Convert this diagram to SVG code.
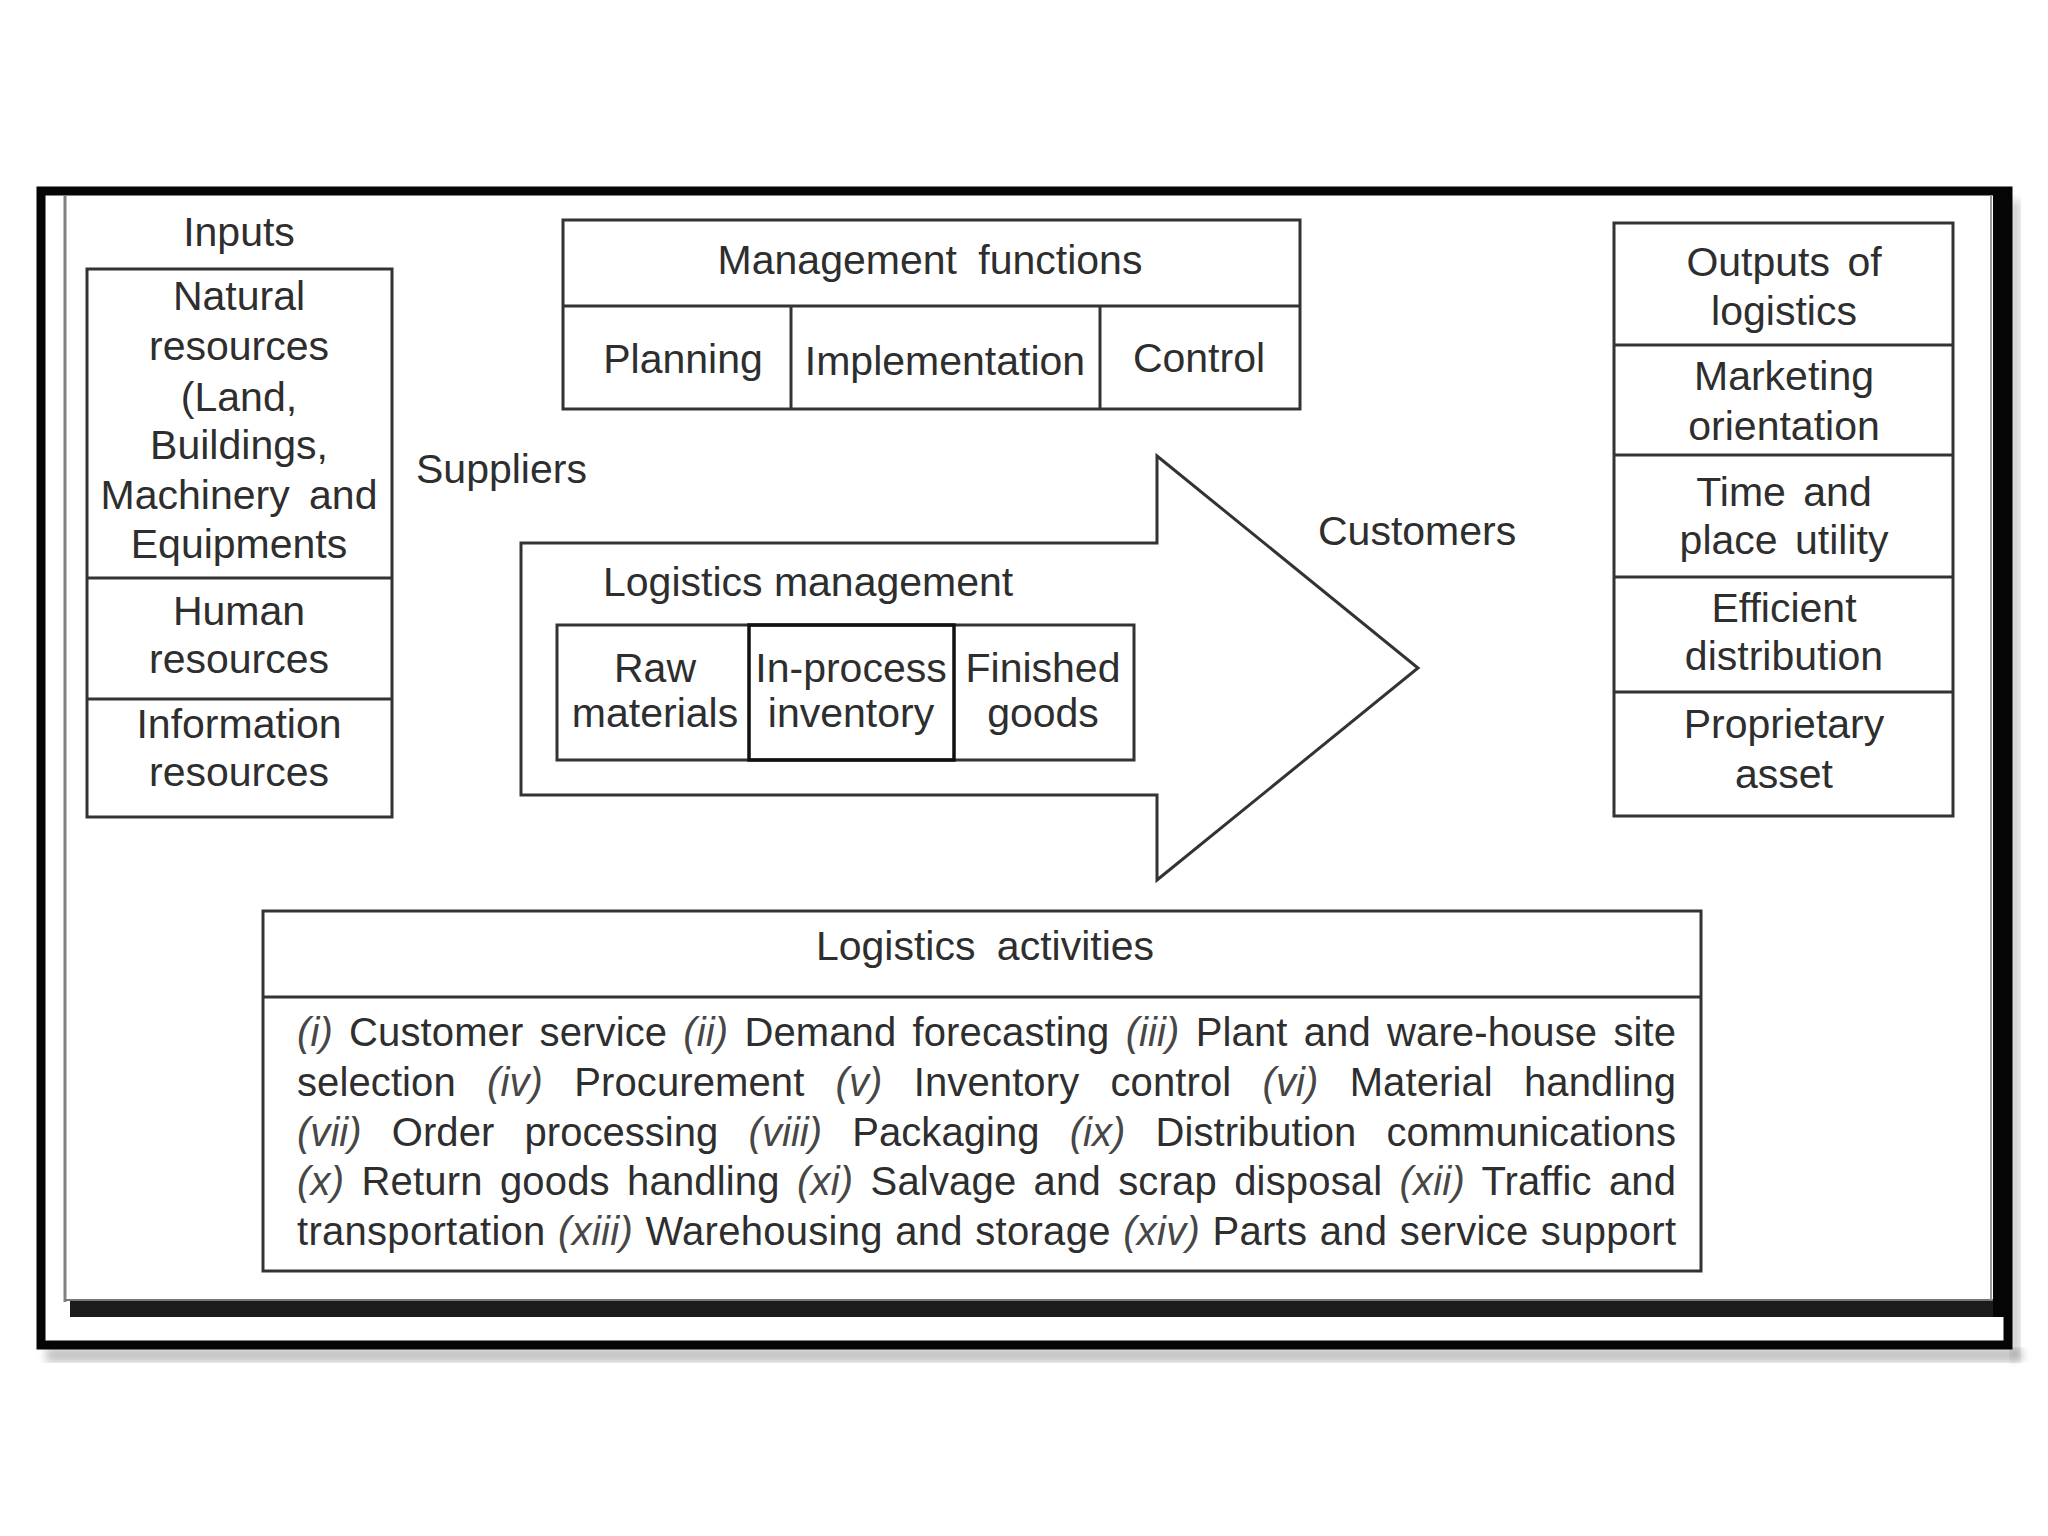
<svg xmlns="http://www.w3.org/2000/svg" width="2048" height="1536" viewBox="0 0 2048 1536">
<defs>
<filter id="blur" x="-5%" y="-5%" width="110%" height="110%"><feGaussianBlur stdDeviation="4"/></filter>
<style>
.t{font-family:"Liberation Sans",Arial,sans-serif;font-size:41px;fill:#2e2e2e;text-anchor:middle}
.ts{font-family:"Liberation Sans",Arial,sans-serif;font-size:41px;fill:#2e2e2e}
.a{font-family:"Liberation Sans",Arial,sans-serif;font-size:40px;fill:#2e2e2e}
.i{font-style:italic;fill:#474747}
.box{fill:none;stroke:#333;stroke-width:3}
.ln{stroke:#333;stroke-width:3;fill:none}
</style>
</defs>
<rect x="0" y="0" width="2048" height="1536" fill="#ffffff"/>
<g id="frame">
<rect x="46" y="1348" width="1976" height="14" fill="#9a9a9a" opacity="0.6" filter="url(#blur)"/>
<rect x="2010" y="200" width="10" height="1160" fill="#9a9a9a" opacity="0.5" filter="url(#blur)"/>
<rect x="41" y="191" width="1967" height="1154" fill="#ffffff" stroke="#050505" stroke-width="9"/>
<line x1="65" y1="195" x2="65" y2="1302" stroke="#808080" stroke-width="3"/>
<line x1="65" y1="1300" x2="1993" y2="1300" stroke="#777" stroke-width="2"/>
<rect x="70" y="1301" width="1935" height="16" fill="#1c1c1c"/>
<line x1="1991" y1="195" x2="1991" y2="1300" stroke="#999" stroke-width="2"/>
<rect x="1993" y="195" width="15" height="1122" fill="#050505"/>
</g>
<g id="inputs">
<text class="t" x="239" y="246">Inputs</text>
<rect class="box" x="87" y="269" width="305" height="548"/>
<line class="ln" x1="87" y1="578" x2="392" y2="578"/>
<line class="ln" x1="87" y1="699" x2="392" y2="699"/>
<text class="t" x="239" y="310">Natural</text>
<text class="t" x="239" y="360">resources</text>
<text class="t" x="239" y="411">(Land,</text>
<text class="t" x="239" y="459">Buildings,</text>
<text class="t" x="239" y="509" word-spacing="8">Machinery and</text>
<text class="t" x="239" y="558">Equipments</text>
<text class="t" x="239" y="625">Human</text>
<text class="t" x="239" y="673">resources</text>
<text class="t" x="239" y="738">Information</text>
<text class="t" x="239" y="786">resources</text>
</g>
<g id="suppliers">
<text class="ts" x="416" y="483">Suppliers</text>
</g>
<g id="management-functions">
<rect class="box" x="563" y="220" width="737" height="189"/>
<line class="ln" x1="563" y1="306" x2="1300" y2="306"/>
<line class="ln" x1="791" y1="306" x2="791" y2="409"/>
<line class="ln" x1="1100" y1="306" x2="1100" y2="409"/>
<text class="t" x="930" y="274" word-spacing="10">Management functions</text>
<text class="t" x="683" y="373">Planning</text>
<text class="t" x="945" y="375">Implementation</text>
<text class="t" x="1199" y="372">Control</text>
</g>
<g id="logistics-management">
<polygon class="box" points="521,543 1157,543 1157,456 1418,668 1157,880 1157,795 521,795" stroke-linejoin="miter"/>
<text class="ts" x="603" y="596">Logistics management</text>
<rect class="box" x="557" y="625" width="577" height="135"/>
<rect x="749" y="625" width="205" height="135" fill="none" stroke="#111" stroke-width="3.5"/>
<text class="t" x="655" y="682">Raw</text>
<text class="t" x="655" y="727">materials</text>
<text class="t" x="851" y="682">In-process</text>
<text class="t" x="851" y="727">inventory</text>
<text class="t" x="1043" y="682">Finished</text>
<text class="t" x="1043" y="727">goods</text>
</g>
<g id="customers">
<text class="ts" x="1318" y="545">Customers</text>
</g>
<g id="outputs">
<rect class="box" x="1614" y="223" width="339" height="593"/>
<line class="ln" x1="1614" y1="345" x2="1953" y2="345"/>
<line class="ln" x1="1614" y1="455" x2="1953" y2="455"/>
<line class="ln" x1="1614" y1="577" x2="1953" y2="577"/>
<line class="ln" x1="1614" y1="692" x2="1953" y2="692"/>
<text class="t" x="1784" y="276" word-spacing="6">Outputs of</text>
<text class="t" x="1784" y="325">logistics</text>
<text class="t" x="1784" y="390">Marketing</text>
<text class="t" x="1784" y="440">orientation</text>
<text class="t" x="1784" y="506" word-spacing="6">Time and</text>
<text class="t" x="1784" y="554" word-spacing="6">place utility</text>
<text class="t" x="1784" y="622">Efficient</text>
<text class="t" x="1784" y="670">distribution</text>
<text class="t" x="1784" y="738">Proprietary</text>
<text class="t" x="1784" y="788">asset</text>
</g>
<g id="logistics-activities">
<rect class="box" x="263" y="911" width="1438" height="360"/>
<line class="ln" x1="263" y1="997" x2="1701" y2="997"/>
<text class="t" x="985" y="960" word-spacing="10">Logistics activities</text>
<text class="a" x="297" y="1046" word-spacing="5" textLength="1379" lengthAdjust="spacing"><tspan class="i">(i)</tspan> Customer service <tspan class="i">(ii)</tspan> Demand forecasting <tspan class="i">(iii)</tspan> Plant and ware-house site</text>
<text class="a" x="297" y="1096" word-spacing="20" textLength="1379" lengthAdjust="spacing">selection <tspan class="i">(iv)</tspan> Procurement <tspan class="i">(v)</tspan> Inventory control <tspan class="i">(vi)</tspan> Material handling</text>
<text class="a" x="297" y="1146" word-spacing="19" textLength="1379" lengthAdjust="spacing"><tspan class="i">(vii)</tspan> Order processing <tspan class="i">(viii)</tspan> Packaging <tspan class="i">(ix)</tspan> Distribution communications</text>
<text class="a" x="297" y="1195" word-spacing="6" textLength="1379" lengthAdjust="spacing"><tspan class="i">(x)</tspan> Return goods handling <tspan class="i">(xi)</tspan> Salvage and scrap disposal <tspan class="i">(xii)</tspan> Traffic and</text>
<text class="a" x="297" y="1245" word-spacing="1" textLength="1379" lengthAdjust="spacing">transportation <tspan class="i">(xiii)</tspan> Warehousing and storage <tspan class="i">(xiv)</tspan>  Parts and service support</text>
</g>
<g id="connectors"></g>
</svg>
